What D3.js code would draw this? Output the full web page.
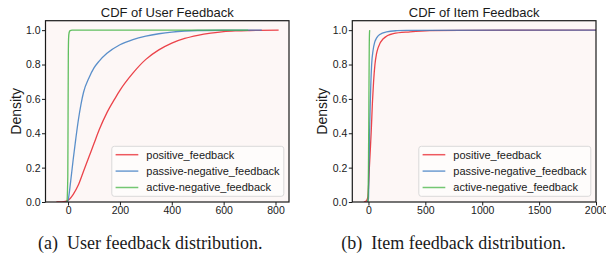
<!DOCTYPE html>
<html>
<head>
<meta charset="utf-8">
<script src="https://cdn.jsdelivr.net/npm/d3@7"></script>
<style>
body { margin: 0; background: #fff; }
svg text { font-family: "Liberation Sans", Arial, sans-serif; fill: #1a1a1a; }
</style>
</head>
<body>
<svg id="chart" width="606" height="256"></svg>
<script>
// values (x = count, y = cumulative density)
const seriesNames = ['positive_feedback', 'passive-negative_feedback', 'active-negative_feedback']
const seriesColors = ['#e8232b', '#3d7cc2', '#45b545']

const userPositive = [[-45,0],[-25,0.001],[-10,0.004],[0,0.01],[20,0.045],[40,0.1],[60,0.18],[80,0.26],[100,0.34],
  [120,0.42],[150,0.52],[180,0.6],[200,0.65],[250,0.75],[300,0.83],[350,0.885],[400,0.925],[450,0.952],[500,0.97],
  [550,0.983],[600,0.992],[650,0.996],[700,0.998],[812,1]]
const userPassive = [[-8,0],[-2,0.003],[0,0.01],[10,0.12],[20,0.25],[30,0.37],[40,0.48],[50,0.57],[60,0.64],[80,0.72],
  [100,0.78],[120,0.82],[150,0.865],[200,0.915],[250,0.945],[300,0.965],[350,0.979],[400,0.989],[450,0.995],
  [500,0.998],[600,0.9995],[747,1]]
const userActive = [[-4,0],[-1,0.15],[0,0.5],[1,0.85],[2,0.95],[4,0.985],[8,0.997],[15,1],[695,1]]

const itemPositive = [[-40,0],[-20,0.005],[-5,0.03],[0,0.08],[8,0.2],[16,0.3],[25,0.42],[35,0.58],[45,0.7],[57,0.8],
  [70,0.86],[86,0.9],[130,0.95],[218,0.98],[365,0.99],[540,0.997],[800,0.999],[2000,1]]
const itemPassive = [[-10,0],[0,0.02],[5,0.2],[10,0.4],[15,0.55],[20,0.67],[28,0.8],[40,0.88],[55,0.93],[72,0.955],
  [100,0.975],[160,0.99],[250,0.997],[336,0.999],[2000,1]]
const itemActive = [[-4,0],[0,0.2],[4,0.6],[7,0.9],[9,0.98],[11,1]]

const yTicks = [0, 0.2, 0.4, 0.6, 0.8, 1.0]
const userXTicks = [0, 200, 400, 600, 800]
const itemXTicks = [0, 500, 1000, 1500, 2000]

const svg = d3.select('#chart')

function drawPanel(opts) {
	let x = d3.scaleLinear().domain(opts.xDomain).range([opts.left, opts.right])
	let y = d3.scaleLinear().domain([0, 1.055]).range([opts.bottom, opts.top])
	let g = svg.append('g')

	g.append('rect')
		.attr('x', opts.left).attr('y', opts.top)
		.attr('width', opts.right - opts.left).attr('height', opts.bottom - opts.top)
		.attr('fill', '#fdf7f6')

	g.append('clipPath').attr('id', opts.id + '-clip')
		.append('rect')
		.attr('x', opts.left).attr('y', opts.top)
		.attr('width', opts.right - opts.left).attr('height', opts.bottom - opts.top)

	let line = d3.line()
		.x((d) => x(d[0]))
		.y((d) => y(d[1]))
		.curve(d3.curveMonotoneX)

	g.append('g').attr('clip-path', 'url(#' + opts.id + '-clip)')
		.selectAll('path')
		.data(opts.series)
		.join('path')
		.attr('d', (d) => line(d))
		.attr('fill', 'none')
		.attr('stroke', (d, i) => seriesColors[i])
		.attr('stroke-width', 1.3)
		.attr('stroke-opacity', 0.85)

	// axes
	let xAxis = g.append('g')
		.attr('transform', 'translate(0,' + opts.bottom + ')')
		.call(d3.axisBottom(x).tickValues(opts.xTicks).tickFormat(d3.format('d'))
			.tickSize(3.5).tickPadding(1.5).tickSizeOuter(0))
	let yAxis = g.append('g')
		.attr('transform', 'translate(' + opts.left + ',0)')
		.call(d3.axisLeft(y).tickValues(yTicks).tickFormat(d3.format('.1f'))
			.tickSize(3.5).tickPadding(1.5).tickSizeOuter(0))
	for (let ax of [xAxis, yAxis]) {
		ax.select('.domain').remove()
		ax.selectAll('line').attr('stroke', '#1a1a1a')
		ax.selectAll('text').attr('font-size', 10.5).attr('fill', '#1a1a1a')
			.style('font-family', '"Liberation Sans", Arial, sans-serif')
	}

	g.append('rect')
		.attr('x', opts.left).attr('y', opts.top)
		.attr('width', opts.right - opts.left).attr('height', opts.bottom - opts.top)
		.attr('fill', 'none').attr('stroke', '#1a1a1a').attr('stroke-width', 1.2)

	g.append('text')
		.attr('x', (opts.left + opts.right) / 2).attr('y', 16.7)
		.attr('text-anchor', 'middle').attr('font-size', 13)
		.text(opts.title)

	g.append('text')
		.attr('transform', 'translate(' + opts.ylabelX + ',' + (opts.top + opts.bottom) / 2 + ') rotate(-90)')
		.attr('text-anchor', 'middle').attr('font-size', 14)
		.text('Density')

	// legend, lower right
	let lw = 172, lh = 50
	let lx = opts.right - 5.2 - lw, ly = opts.bottom - 5.7 - lh
	let legend = g.append('g').attr('transform', 'translate(' + lx + ',' + ly + ')')
	legend.append('rect')
		.attr('width', lw).attr('height', lh).attr('rx', 2.5)
		.attr('fill', '#fefcfc').attr('fill-opacity', 0.9)
		.attr('stroke', '#d6d6d6').attr('stroke-width', 0.9)
	let rows = legend.selectAll('g.row')
		.data(seriesNames)
		.join('g').attr('class', 'row')
		.attr('transform', (d, i) => 'translate(0,' + (8.4 + i * 16.4) + ')')
	rows.append('line')
		.attr('x1', 3.8).attr('x2', 26.5)
		.attr('stroke', (d, i) => seriesColors[i])
		.attr('stroke-width', 1.5).attr('stroke-opacity', 0.75)
	rows.append('text')
		.attr('x', 34.5).attr('dy', '0.35em')
		.attr('font-size', 11)
		.text((d) => d)

	svg.append('text')
		.attr('x', opts.captionX).attr('y', 248.5)
		.attr('text-anchor', 'middle')
		.style('font-family', '"Liberation Serif", "DejaVu Serif", serif')
		.attr('font-size', 18)
		.text(opts.caption)
}

drawPanel({
	id: 'user', left: 45.5, right: 289, top: 20.7, bottom: 202,
	xDomain: [-87, 852], xTicks: userXTicks,
	series: [userPositive, userPassive, userActive],
	title: 'CDF of User Feedback', ylabelX: 20.5,
	caption: '(a)\u2002User feedback distribution.', captionX: 150.3
})

drawPanel({
	id: 'item', left: 352.3, right: 596, top: 20.7, bottom: 202,
	xDomain: [-142, 2000], xTicks: itemXTicks,
	series: [itemPositive, itemPassive, itemActive],
	title: 'CDF of Item Feedback', ylabelX: 326.5,
	caption: '(b)\u2002Item feedback distribution.', captionX: 453.5
})
</script>
</body>
</html>
